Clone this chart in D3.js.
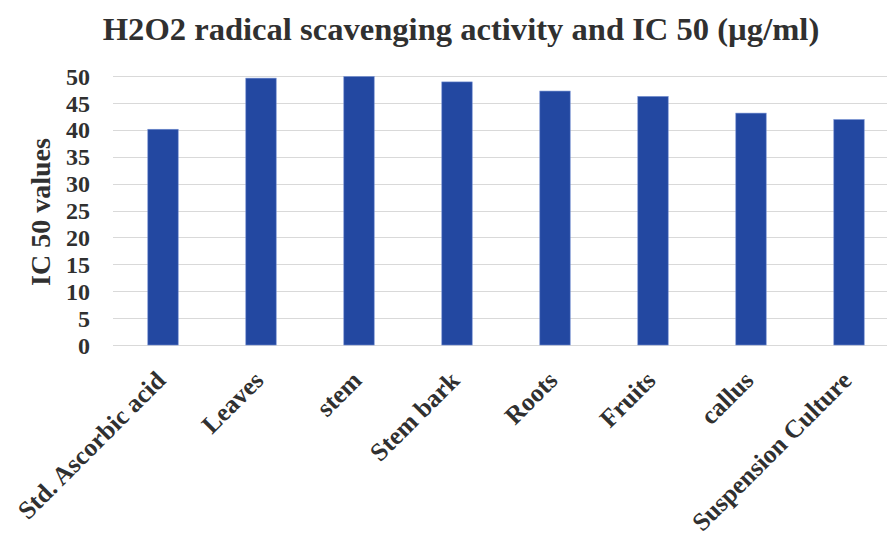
<!DOCTYPE html>
<html>
<head>
<meta charset="utf-8">
<script src="https://cdn.jsdelivr.net/npm/d3@7"></script>
<style>
  html, body { margin: 0; padding: 0; background: #fff; }
  svg { display: block; }
</style>
</head>
<body>
<svg id="chart" width="887" height="537"></svg>
<script>
// IC 50 values for H2O2 radical scavenging by sample type
const categories = ["Std. Ascorbic acid", "Leaves", "stem", "Stem bark", "Roots", "Fruits", "callus", "Suspension Culture"];
const ic50Values = [40.1, 49.6, 49.9, 48.9, 47.2, 46.2, 43.1, 41.9];
const yTicks = [0, 5, 10, 15, 20, 25, 30, 35, 40, 45, 50];

const titleText = "H2O2 radical scavenging activity and IC 50 (µg/ml)";
const yTitleText = "IC 50 values";

const FONT = '"Liberation Serif", "Times New Roman", serif';
const TEXT_COLOR = "#303030";

const svg = d3.select("#chart");
const plot = { left: 114, right: 898, top: 76, bottom: 345 };

const x = d3.scaleBand()
  .domain(categories)
  .range([plot.left, plot.right])
  .paddingInner(0.69)
  .paddingOuter(0.345);

const y = d3.scaleLinear()
  .domain([0, 50])
  .range([plot.bottom, plot.top]);

// horizontal gridlines
svg.append("g")
  .selectAll("line")
  .data(yTicks)
  .join("line")
  .attr("x1", plot.left - 1)
  .attr("x2", plot.right)
  .attr("y1", d => Math.round(y(d)) + 0.5)
  .attr("y2", d => Math.round(y(d)) + 0.5)
  .attr("stroke", "#d9d9d9")
  .attr("stroke-width", 1.2);

// bars
svg.append("g")
  .selectAll("rect")
  .data(categories.map((c, i) => ({ c, v: ic50Values[i] })))
  .join("rect")
  .attr("x", d => x(d.c))
  .attr("width", x.bandwidth())
  .attr("y", d => y(d.v))
  .attr("height", d => y(0) - y(d.v))
  .attr("fill", "#2348a1")
  .attr("stroke", "#6f8bd0")
  .attr("stroke-width", 0.6);

// y axis labels
const yAxis = d3.axisLeft(y).tickValues(yTicks).tickSize(0).tickPadding(0);
const yg = svg.append("g")
  .attr("transform", `translate(${plot.left - 24},0)`)
  .call(yAxis);
yg.select(".domain").remove();
yg.selectAll("text")
  .style("font-family", FONT)
  .style("font-weight", "bold")
  .style("font-size", "24px")
  .attr("fill", TEXT_COLOR)
  .attr("dy", "0.34em");

// x axis labels, rotated
const xAxis = d3.axisBottom(x).tickSize(0).tickPadding(0);
const xg = svg.append("g")
  .attr("transform", `translate(0,${plot.bottom})`)
  .call(xAxis);
xg.select(".domain").remove();
xg.selectAll("text")
  .style("font-family", FONT)
  .style("font-weight", "bold")
  .style("font-size", "25.5px")
  .attr("fill", TEXT_COLOR)
  .attr("text-anchor", "end")
  .attr("dy", "0")
  .attr("y", 0)
  .attr("transform", "translate(4,37) rotate(-45)");

// y axis title
svg.append("text")
  .attr("transform", "translate(50,212) rotate(-90)")
  .attr("text-anchor", "middle")
  .style("font-family", FONT)
  .style("font-weight", "bold")
  .style("font-size", "28px")
  .attr("fill", TEXT_COLOR)
  .text(yTitleText);

// chart title
svg.append("text")
  .attr("x", 461)
  .attr("y", 40)
  .attr("text-anchor", "middle")
  .style("font-family", FONT)
  .style("font-weight", "bold")
  .style("font-size", "32.6px")
  .attr("fill", TEXT_COLOR)
  .text(titleText);
</script>
</body>
</html>
